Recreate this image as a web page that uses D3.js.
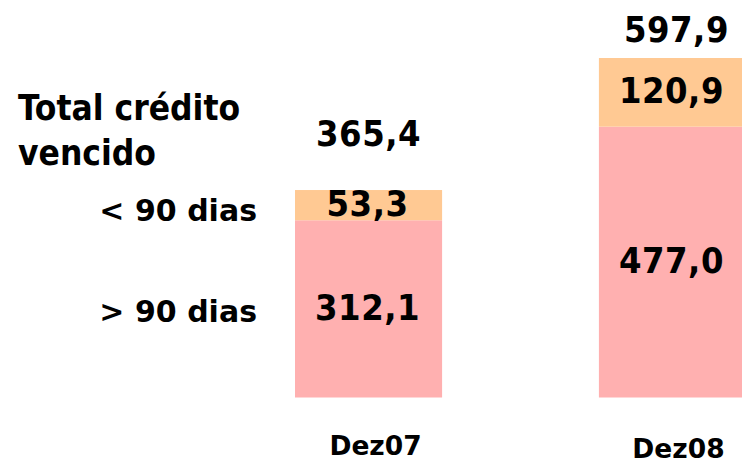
<!DOCTYPE html>
<html>
<head>
<meta charset="utf-8">
<script src="https://cdn.jsdelivr.net/npm/d3@7"></script>
<style>
  html, body { margin: 0; padding: 0; background: #fff; }
  svg { display: block; }
  text { font-family: "DejaVu Sans Condensed", "DejaVu Sans", sans-serif; font-stretch: condensed; font-weight: bold; fill: #000; }
  text.wide { font-family: "DejaVu Sans", sans-serif; font-stretch: normal; }
</style>
</head>
<body>
<svg id="chart" width="742" height="464"></svg>
<script>
const categories = ["Dez07", "Dez08"];
const series = ["> 90 dias", "< 90 dias"];
const over90 = [312.1, 477.0];
const under90 = [53.3, 120.9];
const totals = [365.4, 597.9];
const titleLines = ["Total crédito", "vencido"];

const fmt = v => v.toFixed(1).replace(".", ",");
const colors = { "> 90 dias": "#FFB0B0", "< 90 dias": "#FFC993" };

const svg = d3.select("#chart");

const x = d3.scaleBand().domain(categories).range([295, 746]).paddingInner(0.516).paddingOuter(0);
const y = d3.scaleLinear().domain([0, 600]).range([397.5, 397.5 - 600 * 0.5678]);

const rows = categories.map((c, i) => ({ cat: c, "> 90 dias": over90[i], "< 90 dias": under90[i], total: totals[i] }));
const stack = d3.stack().keys(series)(rows);

const g = svg.append("g");
stack.forEach(layer => {
  g.selectAll(null).data(layer).enter().append("rect")
    .attr("x", d => x(d.data.cat))
    .attr("width", x.bandwidth())
    .attr("y", d => y(d[1]))
    .attr("height", d => y(d[0]) - y(d[1]))
    .attr("fill", colors[layer.key]);
});

// segment labels
stack.forEach(layer => {
  g.selectAll(null).data(layer).enter().append("text")
    .attr("x", d => x(d.data.cat) + x.bandwidth() / 2 - 1)
    .attr("y", d => (y(d[0]) + y(d[1])) / 2 + 11)
    .attr("text-anchor", "middle")
    .attr("font-size", 36)
    .attr("letter-spacing", 0.5)
    .text(d => fmt(d[1] - d[0]));
});

// totals
const totalOffsets = [44, 16];
g.selectAll(null).data(rows).enter().append("text")
  .attr("x", (d, i) => x(d.cat) + x.bandwidth() / 2 + (i === 0 ? 0 : 4))
  .attr("y", (d, i) => y(d.total) - totalOffsets[i])
  .attr("text-anchor", "middle")
  .attr("font-size", 36)
  .attr("letter-spacing", 0.5)
  .text(d => fmt(d.total));

// category labels
g.selectAll(null).data(categories).enter().append("text")
  .attr("class", "wide")
  .attr("x", (d, i) => x(d) + x.bandwidth() / 2 + (i === 0 ? 7 : 6))
  .attr("y", (d, i) => i === 0 ? 455 : 458)
  .attr("text-anchor", "middle")
  .attr("font-size", 26.5)
  .text(d => d);

// left title
svg.append("text").attr("x", 18).attr("y", 120).attr("font-size", 35).text(titleLines[0]);
svg.append("text").attr("x", 18).attr("y", 165).attr("font-size", 35).text(titleLines[1]);

// series labels aligned with segments of first bar
const first = stack.map(layer => layer[0]);
series.forEach((s, k) => {
  const d = first[k];
  svg.append("text")
    .attr("class", "wide")
    .attr("x", 257)
    .attr("y", (y(d[0]) + y(d[1])) / 2 + (k === 0 ? 13 : 16))
    .attr("text-anchor", "end")
    .attr("font-size", 30)
    .text(s);
});
</script>
</body>
</html>
